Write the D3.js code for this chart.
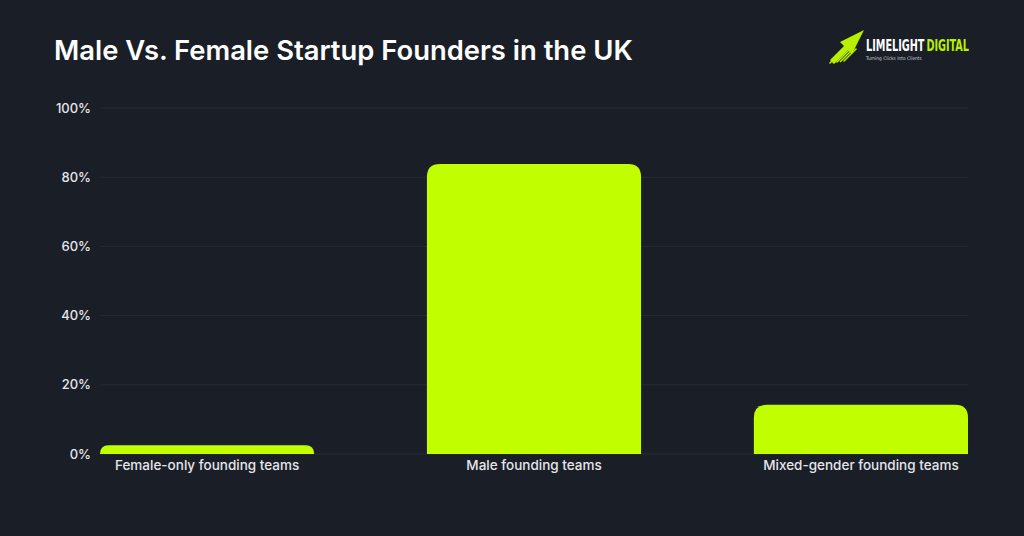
<!DOCTYPE html>
<html><head><meta charset="utf-8">
<script src="https://cdn.jsdelivr.net/npm/d3@7/dist/d3.min.js"></script>
<style>html,body{margin:0;padding:0;background:#1a1e26;}svg{display:block;}</style>
</head><body>
<svg id="c" width="1024" height="536"></svg>
<script>
const categories = ["Female-only founding teams", "Male founding teams", "Mixed-gender founding teams"];
const values = [2.5, 83.8, 14.2];
const yTicks = [0, 20, 40, 60, 80, 100];
const title = "Male Vs. Female Startup Founders in the UK";

const W = 1024, H = 536;
const m = {left: 100, right: 56, top: 108, bottom: 82};
const svg = d3.select("#c");
svg.append("rect").attr("width", W).attr("height", H).attr("fill", "#1a1e26");

const x = d3.scaleBand().domain(categories).range([m.left, W - m.right]).paddingInner(0.345).paddingOuter(0);
const y = d3.scaleLinear().domain([0, 100]).range([H - m.bottom, m.top]);

// grid
svg.append("g").selectAll("line").data(yTicks).join("line")
  .attr("x1", m.left).attr("x2", W - m.right)
  .attr("y1", d => y(d)).attr("y2", d => y(d))
  .attr("stroke", "#262b35").attr("stroke-width", 1);

// y axis
const yAxis = d3.axisLeft(y).tickValues(yTicks).tickFormat(d => d + "%").tickSize(0).tickPadding(9);
const ya = svg.append("g").attr("transform", `translate(${m.left},0)`).call(yAxis);
ya.select(".domain").remove();
ya.selectAll("text").attr("fill", "#e4e6ea").attr("font-family", "Inter, sans-serif").attr("font-size", 13).attr("font-weight", 500);

// bars with rounded top
function barPath(x0, w, yt, yb, r) {
  r = Math.min(r, yb - yt, w / 2);
  return `M${x0},${yb} L${x0},${yt + r} Q${x0},${yt} ${x0 + r},${yt} L${x0 + w - r},${yt} Q${x0 + w},${yt} ${x0 + w},${yt + r} L${x0 + w},${yb} Z`;
}
svg.append("g").selectAll("path").data(categories).join("path")
  .attr("d", (d, i) => barPath(x(d), x.bandwidth(), y(values[i]), y(0), 13))
  .attr("fill", "#c1ff00");

// x axis
const xAxis = d3.axisBottom(x).tickSize(0).tickPadding(6);
const xa = svg.append("g").attr("transform", `translate(0,${y(0)})`).call(xAxis);
xa.select(".domain").remove();
xa.selectAll("text").attr("fill", "#e4e6ea").attr("font-family", "Inter, sans-serif").attr("font-size", 13.5).attr("font-weight", 500);

// title
svg.append("text").attr("x", 54).attr("y", 60).text(title)
  .attr("fill", "#ffffff").attr("font-family", "Inter, sans-serif").attr("font-size", 27.4).attr("font-weight", 600);

// logo
const lg = svg.append("g").attr("transform", "translate(828,30)");
lg.append("path").attr("d", "M2,30 L16,16 L12,12 L36,0 L24,24 L20,20 L6,34 Z").attr("fill", "#b8f000");
[0, 1, 2, 3, 4].forEach(i => {
  lg.append("line").attr("x1", 2 + i * 3.5).attr("y1", 33 - i * 0.5).attr("x2", 14 + i * 3.5).attr("y2", 21 - i * 0.5)
    .attr("stroke", "#b8f000").attr("stroke-width", 1.6).attr("stroke-linecap", "round");
});
const bf = "'DejaVu Sans Condensed', sans-serif";
const brand = lg.append("g").attr("transform", "translate(0,21) scale(1,1.45)");
const t1 = brand.append("text").attr("x", 38).attr("y", 0).text("LIMELIGHT")
  .attr("fill", "#ffffff").attr("font-family", bf).attr("font-weight", 700).attr("font-size", 14);
const t2 = brand.append("text").attr("y", 0).text("DIGITAL")
  .attr("fill", "#b8f000").attr("font-family", bf).attr("font-weight", 700).attr("font-size", 14);
// fit both words into the logo width at their natural proportions
let w1 = t1.node().getComputedTextLength(), w2 = t2.node().getComputedTextLength();
const fs = 14 * 101 / (w1 + w2);
t1.attr("font-size", fs); t2.attr("font-size", fs);
w1 = t1.node().getComputedTextLength();
t2.attr("x", 38 + w1 + 2);
const tg = lg.append("text").attr("x", 38).attr("y", 29.5).text("Turning Clicks Into Clients")
  .attr("fill", "#d0d4da").attr("font-family", bf).attr("font-size", 6);
const wt = tg.node().getComputedTextLength();
tg.attr("font-size", 6 * 56 / wt);
</script>
</body></html>
